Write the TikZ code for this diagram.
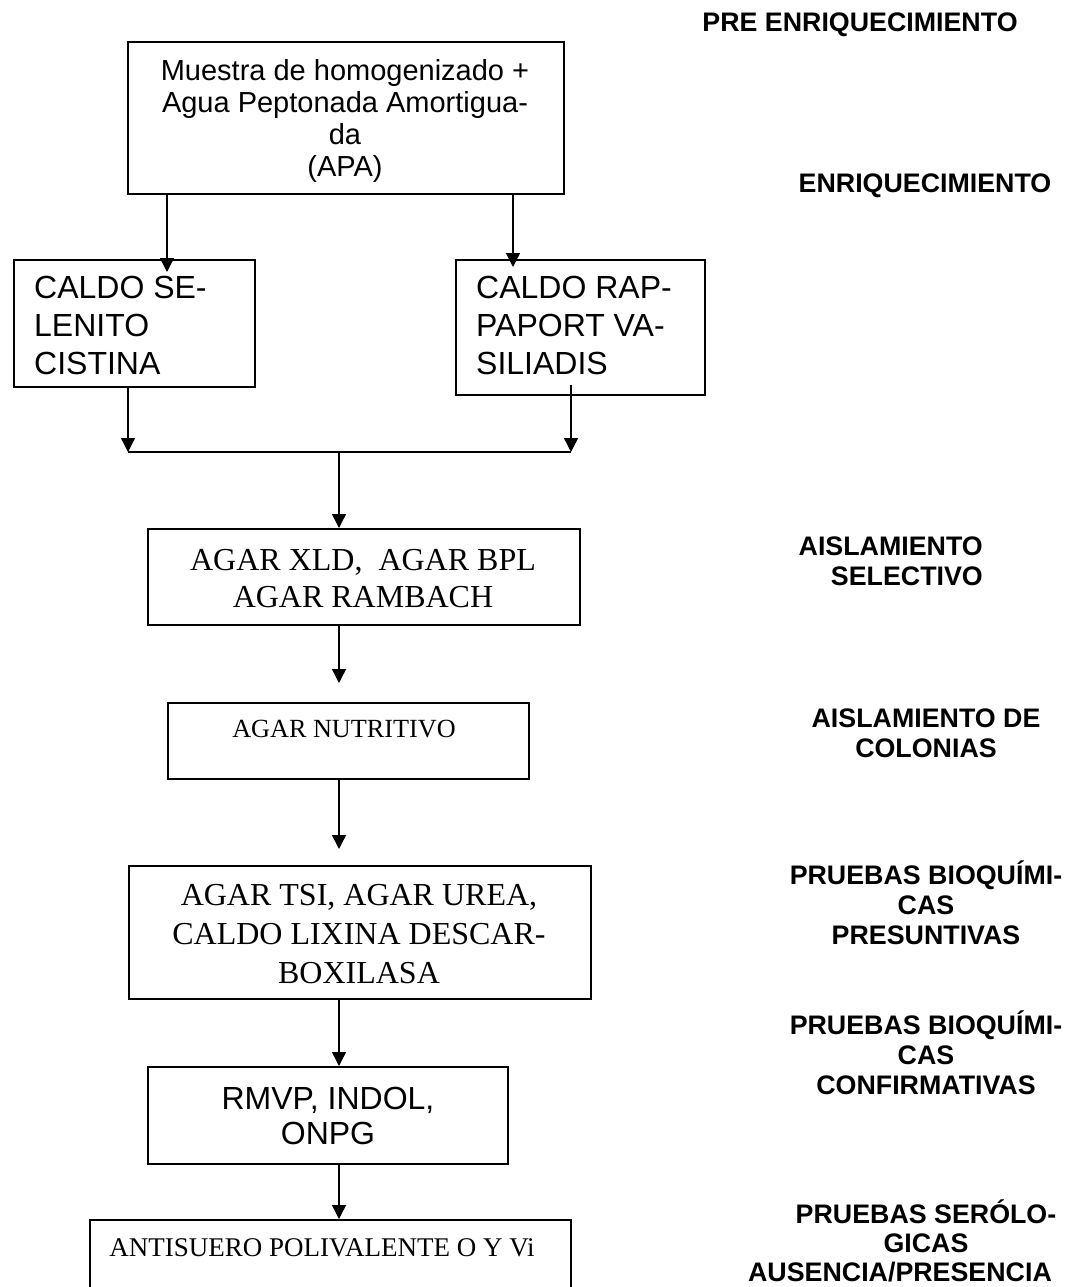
\documentclass[tikz,border=0pt]{standalone}
\usepackage{fontspec}
\setmainfont{Liberation Sans}
\newfontfamily\tnr{Liberation Serif}
\usetikzlibrary{arrows.meta}
\begin{document}
\begin{tikzpicture}[x=1pt,y=-1pt,
  box/.style={draw, line width=1.8pt, inner sep=0pt, anchor=north west},
  conn/.style={line width=1.4pt},
  arr/.style={conn, -{Triangle[length=14pt,width=14pt]}},
  lbl/.style={font=\fontsize{26.8}{30}\selectfont\bfseries, align=center, inner sep=0pt},
  sanstxt/.style={inner sep=0pt},
  seriftxt/.style={inner sep=0pt}
]
\useasboundingbox (0,0) rectangle (1070,1287);

% boxes
\node[box, minimum width=436pt, minimum height=152pt] (apa) at (127,41) {};
\node[box, minimum width=241pt, minimum height=127pt] (sel) at (13,259) {};
\node[box, minimum width=249pt, minimum height=135pt] (rap) at (455,259) {};
\node[box, minimum width=432pt, minimum height=96pt] (xld) at (147,528) {};
\node[box, minimum width=361pt, minimum height=76pt] (nut) at (167,702) {};
\node[box, minimum width=462pt, minimum height=133pt] (tsi) at (128,865) {};
\node[box, minimum width=360pt, minimum height=97pt] (rmvp) at (147,1066) {};
\node[box, minimum width=481pt, minimum height=90pt] (anti) at (89,1219) {};

% box texts
\node[sanstxt, font=\fontsize{29}{32}\selectfont, align=center] (apat) at (345,121) {Muestra de homogenizado +\\Agua Peptonada Amortigua-\\da\\(APA)};
\node[sanstxt, font=\fontsize{32}{38}\selectfont, align=left, anchor=west] (selt) at (34,325.5) {CALDO SE-\\LENITO\\CISTINA};
\node[sanstxt, font=\fontsize{32}{38}\selectfont, align=left, anchor=west] (rapt) at (476,325.5) {CALDO RAP-\\PAPORT VA-\\SILIADIS};
\node[seriftxt, font=\tnr\fontsize{32}{37}\selectfont, align=center] (xldt) at (363,578.5) {AGAR XLD,\ \ AGAR BPL\\AGAR RAMBACH};
\node[seriftxt, font=\tnr\fontsize{26.2}{32}\selectfont] (nutt) at (344,729) {AGAR NUTRITIVO};
\node[seriftxt, font=\tnr\fontsize{32}{39}\selectfont, align=center] (tsit) at (359,934) {AGAR TSI, AGAR UREA,\\CALDO LIXINA DESCAR-\\BOXILASA};
\node[sanstxt, font=\fontsize{32}{35}\selectfont, align=center] (rmvpt) at (328,1115.5) {RMVP, INDOL,\\ONPG};
\node[seriftxt, font=\tnr\fontsize{27}{31}\selectfont] (antit) at (322,1248) {ANTISUERO POLIVALENTE O Y Vi};

% stage labels
\node[lbl] (l1) at (860,25) {PRE ENRIQUECIMIENTO};
\node[lbl] (l2) at (925,186) {ENRIQUECIMIENTO};
\node[lbl, align=right, anchor=east] (l3) at (983,561.5) {AISLAMIENTO\\SELECTIVO};
\node[lbl] (l4) at (926,733) {AISLAMIENTO DE\\COLONIAS};
\node[lbl] (l5) at (926,903) {PRUEBAS BIOQUÍMI-\\CAS\\PRESUNTIVAS};
\node[lbl] (l6) at (926,1053) {PRUEBAS BIOQUÍMI-\\CAS\\CONFIRMATIVAS};
\node[lbl, font=\fontsize{26.8}{29}\selectfont\bfseries] (l7) at (926,1241) {PRUEBAS SERÓLO-\\GICAS\\\hspace*{-52pt}AUSENCIA/PRESENCIA};

% connectors
\coordinate (al) at (167,0);
\coordinate (ar) at (513,0);
\coordinate (jl) at (128,452);
\coordinate (jr) at (571,452);
\coordinate (jc) at (339,452);
\coordinate (rs) at (571,385);
\draw[arr, shorten >=-13pt] (apa.south -| al) -- (sel.north -| al);
\draw[arr, shorten >=-8pt] (apa.south -| ar) -- (rap.north -| ar);
\draw[arr] (sel.south -| jl) -- (jl);
\draw[arr] (rs) -- (jr);
\draw[conn] (jl) -- (jr);
\draw[arr] (jc) -- (xld.north -| jc);
\draw[arr, shorten >=19pt] (xld.south -| jc) -- (nut.north -| jc);
\draw[arr, shorten >=16pt] (nut.south -| jc) -- (tsi.north -| jc);
\draw[arr] (tsi.south -| jc) -- (rmvp.north -| jc);
\draw[arr] (rmvp.south -| jc) -- (anti.north -| jc);
\end{tikzpicture}
\end{document}
